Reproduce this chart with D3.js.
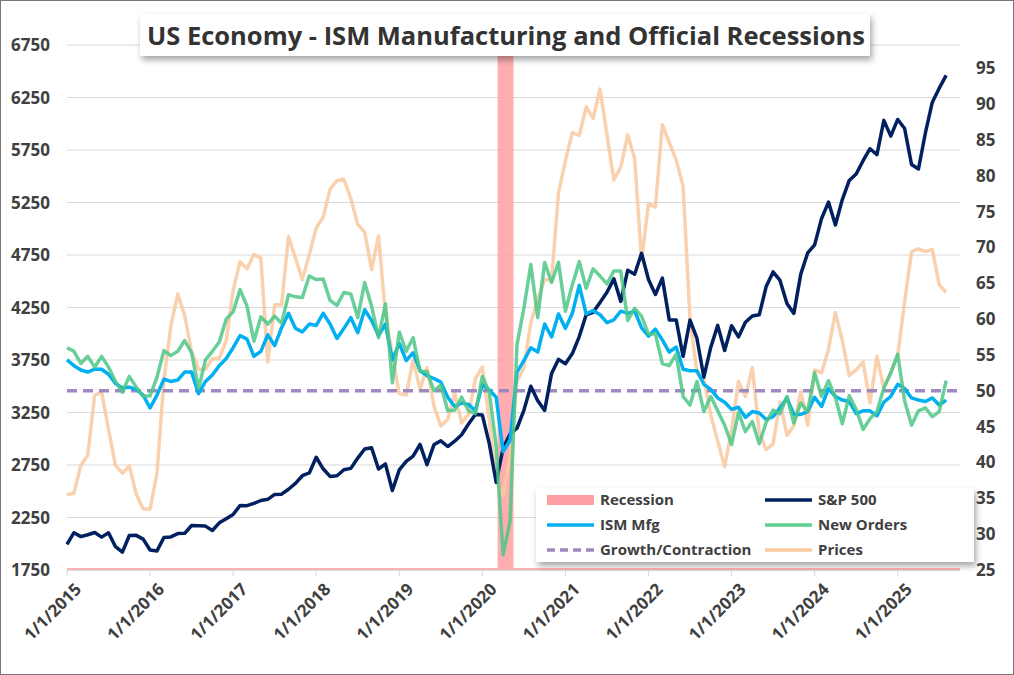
<!DOCTYPE html>
<html><head><meta charset="utf-8">
<script src="https://cdn.jsdelivr.net/npm/d3@7/dist/d3.min.js"></script>
<style>body{margin:0;background:#fff}svg{font-family:"Open Sans","Noto Sans",sans-serif}</style>
</head><body>
<script>
const startYear = 2015;
const sp500 = [1995,2105,2068,2086,2107,2063,2104,1972,1920,2079,2080,2044,
1940,1932,2060,2065,2097,2099,2174,2171,2168,2126,2199,2239,
2279,2364,2363,2384,2412,2423,2470,2472,2519,2575,2648,2674,
2824,2714,2641,2648,2705,2718,2816,2902,2914,2712,2760,2507,
2704,2784,2834,2946,2752,2942,2980,2926,2977,3038,3141,3231,
3226,2954,2585,2912,3044,3100,3271,3500,3363,3270,3622,3756,
3714,3811,3973,4181,4204,4298,4395,4523,4308,4605,4567,4766,
4516,4374,4530,4132,4132,3785,4130,3955,3586,3872,4080,3840,
4077,3970,4109,4169,4180,4450,4589,4508,4288,4194,4568,4770,
4846,5096,5254,5036,5278,5460,5522,5648,5762,5705,6032,5882,
6041,5955,5612,5569,5912,6205,6339,6460];
const ismMfg = [54.3,53.5,52.9,52.6,53,53,52.3,51,50.4,50.5,50.2,49.4,
47.6,49.4,51.6,51.3,51.5,52.6,52.6,49.6,51.3,52.2,53.5,54.5,
56,57.7,57.2,54.8,55.5,57.8,56.3,58.8,60.8,58.7,58.2,59.3,
59.1,60.8,59.3,57.3,58.7,60.2,58.1,61.3,59.8,57.7,59.3,54.3,
56.6,54.2,55.3,52.8,52.1,51.7,51.2,49.1,47.8,48.3,48.1,47.2,
50.9,50.1,49.1,41.5,43.1,52.6,54.2,56,55.4,59.3,57.5,60.7,
58.7,60.8,64.7,60.7,61.2,60.6,59.5,59.9,61.1,60.8,61.1,58.8,
57.6,58.6,57.1,55.4,56.1,53,52.8,52.8,50.9,50.2,49,48.4,
47.4,47.7,46.3,47.1,46.9,46,46.4,47.6,49,46.7,46.7,47.1,
49.1,47.8,50.3,49.2,48.7,48.5,46.8,47.2,47.2,46.5,48.4,49.2,
50.9,50.3,49,48.7,48.5,49,48,48.7];
const newOrders = [56,55.5,53.8,54.8,53.3,54.8,53.3,51.3,49.8,52,50.5,49.2,
49.3,51.9,55.6,54.9,55.5,57,55.3,50.3,54.3,55.5,56.8,60,
61,64.1,61.8,56.9,60.3,59.3,60.4,59.4,63.4,63.1,63,66,
65.5,65.6,62.6,61.9,63.7,63.5,60.2,65.1,61.8,57.4,62.1,51.1,
58.2,55.5,57.4,52.7,52.7,50,50.8,47.2,47.3,49.1,47.2,46.8,
52,49.8,42.2,27.1,31.8,56.4,61.5,67.6,60.2,67.9,65.1,67.9,
61.1,64.8,68,64.3,67,66,64.9,66.7,66.7,59.8,61.5,60.4,
57.9,57.9,53.8,53.5,55.1,49.2,48,51.3,47.1,49.2,47.2,45.2,
42.5,47,44.3,45.7,42.6,45.6,47.3,46.8,49.2,45.5,48.3,47.1,
52.5,49.2,51.4,49.1,45.4,49.3,47.4,44.6,46.1,47.1,50.4,52.5,
55.1,48.6,45.2,47.2,47.6,46.4,47.1,51.4];
const prices = [35.5,35.7,39.6,41,49.4,49.8,44.6,39.6,38.5,39.5,35.6,33.5,
33.5,38.5,51.5,59,63.5,60.5,55.5,53,53,54.5,54.5,57,
64,68,67,69,68.5,54,62,62,71.5,68.5,65.5,69,
72.7,74.2,78.1,79.3,79.5,76.8,73.2,72.1,66.9,71.6,60.7,54.9,
49.6,49.4,54.3,50.2,53.2,47.9,45.1,46,49.7,45.5,46.7,51.7,
53.3,45.9,37.4,35.3,40.8,51.3,53.2,59.5,62.8,65.5,65.4,77.6,
82.1,86,85.6,89.6,88,92.1,85.7,79.4,81.2,85.7,82.4,68.2,
76.1,75.6,87.1,84.6,82.2,78.5,60,52.5,51.7,46.6,43,39.4,
44.5,51.3,49.2,53.2,44.2,41.8,42.6,48.4,43.8,45.1,49.9,45.2,
52.9,52.5,55.8,60.9,57,52.1,52.9,54,48.3,54.8,50.3,52.5,
54.9,62.4,69.4,69.8,69.4,69.7,64.8,63.7];
const growthLine = 50;
const recessionMonths = [62.2, 64.5];
const leftTicks = [1750,2250,2750,3250,3750,4250,4750,5250,5750,6250,6750];
const rightTicks = [25,30,35,40,45,50,55,60,65,70,75,80,85,90,95];
const yearTicks = [2015,2016,2017,2018,2019,2020,2021,2022,2023,2024,2025];

const W=1014,H=675;
const svg=d3.select("body").append("svg").attr("width",W).attr("height",H);
const defs=svg.append("defs");
const f=defs.append("filter").attr("id","sh").attr("x","-10%").attr("y","-30%").attr("width","120%").attr("height","180%");
f.append("feDropShadow").attr("dx",2).attr("dy",4).attr("stdDeviation",3).attr("flood-color","#000").attr("flood-opacity",0.35);
svg.append("rect").attr("x",0.5).attr("y",0.5).attr("width",W-1).attr("height",H-1).attr("fill","#fff").attr("stroke","#767676");

const x=d3.scaleLinear().domain([0,129]).range([67,960]);
const yL=d3.scaleLinear().domain([1750,6750]).range([570,45]);
const yR=d3.scaleLinear().domain([25,25+525/7.17]).range([570,45]);

svg.append("g").selectAll("line").data(leftTicks.slice(1)).join("line")
 .attr("x1",67).attr("x2",960).attr("y1",d=>yL(d)).attr("y2",d=>yL(d)).attr("stroke","#d9d9d9");
const lab={"font-weight":"bold","font-size":"17px",fill:"#404040"};
function st(s,o){for(const k in o)s.style(k,o[k]);return s;}
st(svg.append("g").selectAll("text").data(leftTicks).join("text").attr("x",50).attr("y",d=>yL(d)+6).attr("text-anchor","end").text(d=>d),lab);
st(svg.append("g").selectAll("text").data(rightTicks).join("text").attr("x",976).attr("y",d=>yR(d)+6).text(d=>d),lab);
svg.append("line").attr("x1",67).attr("x2",960).attr("y1",570.5).attr("y2",570.5).attr("stroke","#d9d9d9");
svg.append("g").selectAll("line").data(yearTicks).join("line")
 .attr("x1",d=>x((d-startYear)*12)).attr("x2",d=>x((d-startYear)*12)).attr("y1",570).attr("y2",576).attr("stroke","#d9d9d9");
st(svg.append("g").selectAll("text").data(yearTicks).join("text")
 .attr("transform",d=>`translate(${x((d-startYear)*12)+7},582) rotate(-45)`).attr("text-anchor","end").attr("dy","0.7em").text(d=>"1/1/"+d),lab);

svg.append("rect").attr("x",x(recessionMonths[0])).attr("width",x(recessionMonths[1])-x(recessionMonths[0]))
 .attr("y",45).attr("height",525).attr("fill","#ff9fa3").attr("opacity",0.85);
svg.append("line").attr("x1",67).attr("x2",960).attr("y1",569).attr("y2",569).attr("stroke","#ffb3b5").attr("stroke-width",2);

const lineR=d3.line().x((d,i)=>x(i)).y(d=>yR(d));
const lineL=d3.line().x((d,i)=>x(i)).y(d=>yL(d));
svg.append("path").attr("d",lineR(prices)).attr("fill","none").attr("stroke","#f9c9a0").attr("stroke-width",3.5).attr("opacity",0.85).attr("stroke-linejoin","round");
svg.append("line").attr("x1",67).attr("x2",960).attr("y1",yR(growthLine)).attr("y2",yR(growthLine)).attr("stroke","#9d88bf").attr("stroke-width",3.5).attr("stroke-dasharray","10,6");
svg.append("path").attr("d",lineL(sp500)).attr("fill","none").attr("stroke","#002060").attr("stroke-width",3.5).attr("stroke-linejoin","round");
svg.append("path").attr("d",lineR(ismMfg)).attr("fill","none").attr("stroke","#00b0f0").attr("stroke-width",3.5).attr("stroke-linejoin","round");
svg.append("path").attr("d",lineR(newOrders)).attr("fill","none").attr("stroke","#4dc786").attr("stroke-width",3.5).attr("opacity",0.85).attr("stroke-linejoin","round");

svg.append("rect").attr("x",140).attr("y",14).attr("width",730).attr("height",42).attr("fill","#fff").attr("filter","url(#sh)");
svg.append("text").attr("x",506).attr("y",45).attr("text-anchor","middle").style("font-size","25.5px").style("font-weight","bold").style("fill","#333")
 .text("US Economy - ISM Manufacturing and Official Recessions");

svg.append("rect").attr("x",536).attr("y",488).attr("width",438).attr("height",74).attr("fill","#fff").attr("filter","url(#sh)");
const leg=[
 {n:"Recession",c:"#ff9fa3",t:"rect",cx:547,ty:500},
 {n:"S&P 500",c:"#002060",cx:765,ty:500},
 {n:"ISM Mfg",c:"#00b0f0",cx:547,ty:525},
 {n:"New Orders",c:"#5ecf8f",cx:765,ty:525},
 {n:"Growth/Contraction",c:"#9d88bf",dash:true,cx:547,ty:550},
 {n:"Prices",c:"#f9c9a0",cx:765,ty:550}];
leg.forEach(d=>{
 if(d.t==="rect") svg.append("rect").attr("x",d.cx).attr("y",d.ty-5).attr("width",47).attr("height",10).attr("fill",d.c);
 else svg.append("line").attr("x1",d.cx).attr("x2",d.cx+47).attr("y1",d.ty).attr("y2",d.ty).attr("stroke",d.c).attr("stroke-width",3.5).attr("stroke-dasharray",d.dash?"8,5":null);
 st(svg.append("text").attr("x",d.cx+53).attr("y",d.ty+5).text(d.n),{"font-weight":"bold","font-size":"15px",fill:"#404040"});
});
</script>
</body></html>
